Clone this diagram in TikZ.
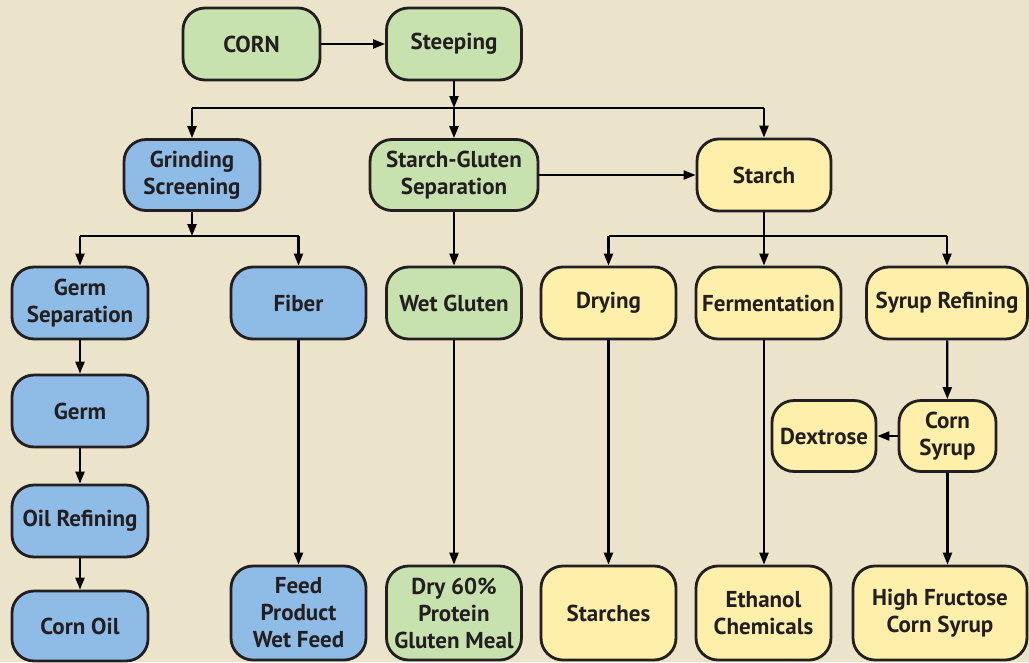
\documentclass[tikz,border=0pt]{standalone}
\usepackage{fontspec}
\setmainfont{PT Sans}
\usetikzlibrary{arrows.meta}
\definecolor{bg}{RGB}{236,228,202}
\definecolor{gfill}{RGB}{200,226,175}
\definecolor{bfill}{RGB}{143,188,230}
\definecolor{yfill}{RGB}{254,240,170}
\definecolor{edge}{RGB}{35,31,32}
\tikzset{
  box/.style={draw=edge, line width=2.8pt, rounded corners=22pt, align=center,
    font=\fontsize{23}{27}\selectfont\bfseries, text=edge, inner sep=0pt},
  gbox/.style={box, fill=gfill},
  bbox/.style={box, fill=bfill},
  ybox/.style={box, fill=yfill},
  conn/.style={line width=2.2pt, draw=black},
  arr/.style={conn, -{Triangle[length=12pt,width=9pt]}},
}
\begin{document}
\begin{tikzpicture}[x=1pt,y=-1pt]
\fill[bg] (0,0) rectangle (1029,662);
\useasboundingbox (0,0) rectangle (1029,662);
% row 1
\node[gbox, minimum width=137pt, minimum height=72pt] (corn) at (251.5,44) {CORN};
\node[gbox, minimum width=135pt, minimum height=72pt] (steep) at (454,44) {Steeping};
% row 2
\node[bbox, minimum width=136pt, minimum height=71pt] (grind) at (192,175) {Grinding\\Screening};
\node[gbox, minimum width=168pt, minimum height=71pt] (sgs) at (454,175) {Starch-Gluten\\Separation};
\node[ybox, minimum width=134pt, minimum height=72pt] (starch) at (764,175) {Starch};
% row 3
\node[bbox, minimum width=136pt, minimum height=72pt] (germsep) at (80,303) {Germ\\Separation};
\node[bbox, minimum width=135pt, minimum height=72pt] (fiber) at (298.5,303) {Fiber};
\node[gbox, minimum width=135pt, minimum height=72pt] (wetg) at (454,303) {Wet Gluten};
\node[ybox, minimum width=135pt, minimum height=72pt] (drying) at (608.5,303) {Drying};
\node[ybox, minimum width=145pt, minimum height=72pt] (ferm) at (768.5,303) {Fermentation};
\node[ybox, minimum width=161pt, minimum height=72pt] (syrup) at (947,303) {Syrup Refining};
% left column
\node[bbox, minimum width=136pt, minimum height=72pt] (germ) at (80,411) {Germ};
\node[bbox, minimum width=136pt, minimum height=72pt] (oil) at (80,521) {Oil Refining};
\node[bbox, minimum width=136pt, minimum height=70pt] (cornoil) at (80,626) {Corn Oil};
% corn syrup / dextrose
\node[ybox, minimum width=97pt, minimum height=71pt] (csyrup) at (947.5,436) {Corn\\Syrup};
\node[ybox, minimum width=104pt, minimum height=71pt] (dex) at (824,436) {Dextrose};
% bottom row
\node[bbox, minimum width=135pt, minimum height=94pt] (feed) at (298.5,613) {Feed\\Product\\Wet Feed};
\node[gbox, minimum width=135pt, minimum height=94pt] (dry60) at (454,613) {Dry 60\%\\Protein\\Gluten Meal};
\node[ybox, minimum width=135pt, minimum height=94pt] (starches) at (608.5,613) {Starches};
\node[ybox, minimum width=135pt, minimum height=94pt] (eth) at (763.5,613) {Ethanol\\Chemicals};
\node[ybox, minimum width=174pt, minimum height=94pt] (hfcs) at (940,613) {High Fructose\\Corn Syrup};
% bus coordinates
\coordinate (b1) at (454,108);
\coordinate (b2) at (192,236);
% connectors
\draw[arr] (corn) -- (steep);
\draw[arr] (steep) -- (b1);
\draw[conn] (grind.north |- b1) -- (starch.north |- b1);
\draw[arr] (grind.north |- b1) -- (grind.north);
\draw[arr] (b1) -- (sgs.north);
\draw[arr] (starch.north |- b1) -- (starch.north);
\draw[arr] (sgs) -- (starch);
\draw[arr] (grind) -- (b2);
\draw[conn] (germsep.north |- b2) -- (fiber.north |- b2);
\draw[arr] (germsep.north |- b2) -- (germsep.north);
\draw[arr] (fiber.north |- b2) -- (fiber.north);
\draw[arr] (sgs) -- (wetg);
\draw[conn] (drying.north |- b2) -- (syrup.north |- b2);
\draw[arr] (starch.south) -- (starch.south |- ferm.north);
\draw[arr] (drying.north |- b2) -- (drying.north);
\draw[arr] (syrup.north |- b2) -- (syrup.north);
\draw[arr] (germsep) -- (germ);
\draw[arr] (germ) -- (oil);
\draw[arr] (oil) -- (cornoil);
\draw[arr] (fiber) -- (feed);
\draw[arr] (wetg) -- (dry60);
\draw[arr] (drying) -- (starches);
\draw[arr] (ferm.south -| starch.south) -- (starch.south |- eth.north);
\draw[arr] (syrup) -- (csyrup);
\draw[arr] (csyrup) -- (dex);
\draw[arr] (csyrup.south) -- (csyrup.south |- hfcs.north);
\end{tikzpicture}
\end{document}
